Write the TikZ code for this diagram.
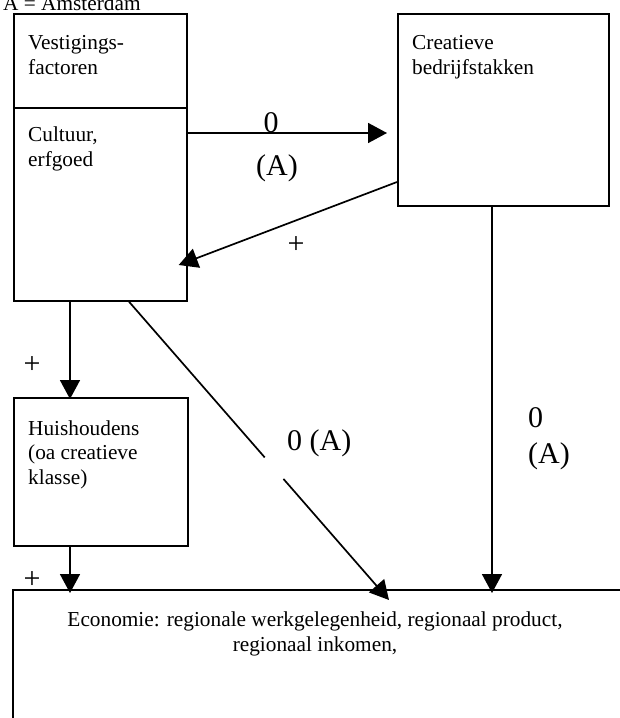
\documentclass[tikz,border=0pt]{standalone}
\usepackage{fontspec}
\setmainfont{Liberation Serif}
\usetikzlibrary{arrows.meta,calc}
\begin{document}
\begin{tikzpicture}[x=1pt,y=-1pt,
  frame/.style={draw,line width=1.7pt,rectangle,inner sep=0pt,anchor=north west},
  boxtext/.style={font=\fontsize{21.3}{24.5}\selectfont,align=left,anchor=base west,inner sep=0pt},
  lbl/.style={font=\fontsize{30}{35}\selectfont,inner sep=0pt},
  conn/.style={line width=1.7pt},
  arr/.style={conn,-{Triangle[length=19pt,width=20pt]}}]
\useasboundingbox (0,0) rectangle (620,718);
\clip (0,0) rectangle (620,718);

% legend
\node[boxtext] (legend) at (3,10) {A = Amsterdam};

% boxes
\node[frame,minimum width=173pt,minimum height=287pt] (vf) at (13,13) {};
\draw[conn] (vf.west |- 0,108) -- (vf.east |- 0,108);
\node[frame,minimum width=211pt,minimum height=192pt] (cb) at (397,13) {};
\node[frame,minimum width=174pt,minimum height=148pt] (hh) at (13,397) {};
\node[frame,minimum width=640pt,minimum height=200pt] (eco) at (12,589) {};

% box texts (anchored on the baseline of their last line)
\node[boxtext] (vfa) at (28,74) {Vestigings-\\factoren};
\node[boxtext] (vfb) at (28,166) {Cultuur,\\erfgoed};
\node[boxtext] (cbt) at (412,74) {Creatieve\\bedrijfstakken};
\node[boxtext] (hht) at (28,484) {Huishoudens\\(oa creatieve\\klasse)};
\node[boxtext,align=center,anchor=base] (ecot) at (315,651)
  {Economie: regionale werkgelegenheid, regionaal product,\\regionaal inkomen,};

% connectors
\coordinate (t1) at ($(cb.west |- 0,133)+(-10,0)$);
\draw[arr] (vf.east |- 0,133) -- (t1);

\coordinate (t2) at ($(vf.east |- 0,265)+(-9,0)$);
\draw[arr] (cb.west |- 0,182) -- (t2);

\coordinate (t3) at ($(hh.north -| 70,0)+(0,2)$);
\draw[arr] (vf.south -| 70,0) -- (t3);

\coordinate (t4) at ($(eco.north -| 70,0)+(0,4)$);
\draw[arr] (hh.south -| 70,0) -- (t4);

\coordinate (d0) at (vf.south -| 129,0);
\coordinate (t5) at ($(eco.north -| 389,0)+(0,11)$);
\coordinate (g1) at ($(d0)!0.522!(t5)$);
\coordinate (g2) at ($(d0)!0.594!(t5)$);
\draw[conn] (d0) -- (g1);
\draw[arr] (g2) -- (t5);

\coordinate (t6) at ($(eco.north -| 492,0)+(0,4)$);
\draw[arr] (cb.south -| 492,0) -- (t6);

% connector labels
\node[lbl,anchor=base] (l1a) at (271,132) {0};
\node[lbl,anchor=base] (l1b) at (277,175) {(A)};
\node[lbl] (l2) at (296,245) {+};
\node[lbl] (l3) at (32,365) {+};
\node[lbl] (l4) at (32,580) {+};
\node[lbl,anchor=base west] (l5) at (287,450) {0 (A)};
\node[lbl,anchor=base west] (l6a) at (528,427) {0};
\node[lbl,anchor=base west] (l6b) at (528,463) {(A)};
\end{tikzpicture}
\end{document}
